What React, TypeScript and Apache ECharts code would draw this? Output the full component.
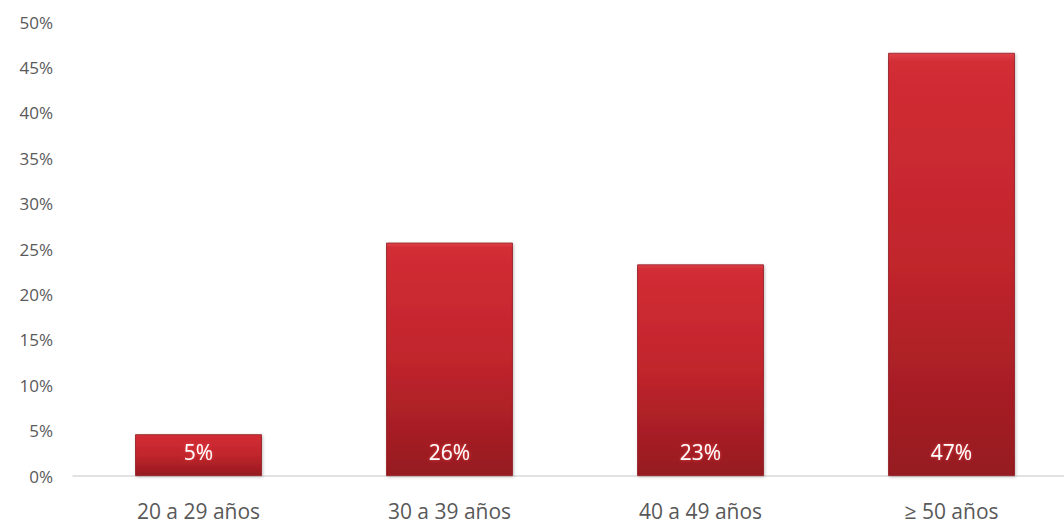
import React, { useEffect, useRef } from "react";
import * as echarts from "echarts";

const categories = ["20 a 29 años", "30 a 39 años", "40 a 49 años", "≥ 50 años"];
const values = [4.6, 25.7, 23.3, 46.6];
const yTicks = [0, 5, 10, 15, 20, 25, 30, 35, 40, 45, 50];

export default function App() {
  const ref = useRef<HTMLDivElement>(null);
  useEffect(() => {
    const chart = echarts.init(ref.current!, undefined, { renderer: "svg" });
    chart.setOption({
      animation: false,
      backgroundColor: "#ffffff",
      grid: { left: 73, right: 0, top: 22, bottom: 49 },
      xAxis: {
        type: "category",
        data: categories,
        axisTick: { show: false },
        axisLine: { lineStyle: { color: "#d9d9d9", width: 1.5 } },
        axisLabel: { color: "#595959", fontSize: 21, margin: 24, fontFamily: "Open Sans" },
      },
      yAxis: {
        type: "value",
        min: yTicks[0],
        max: yTicks[yTicks.length - 1],
        interval: 5,
        splitLine: { show: false },
        axisLine: { show: false },
        axisTick: { show: false },
        axisLabel: {
          color: "#595959",
          fontSize: 17,
          margin: 20,
          fontFamily: "Open Sans",
          formatter: (v: number) => v + "%",
        },
      },
      series: [
        {
          type: "bar",
          data: values,
          barWidth: "50.5%",
          itemStyle: {
            color: new echarts.graphic.LinearGradient(0, 0, 0, 1, [
              { offset: 0, color: "#e0424a" },
              { offset: 0.02, color: "#d22d35" },
              { offset: 0.5, color: "#c1252c" },
              { offset: 1, color: "#951a20" },
            ]),
            borderColor: "#8e1a1f",
            borderWidth: 0.8,
            shadowColor: "rgba(0,0,0,0.25)",
            shadowBlur: 3,
            shadowOffsetX: 1,
            shadowOffsetY: 1,
          },
          label: {
            show: true,
            position: "insideBottom",
            distance: 14,
            color: "#ffffff",
            fontSize: 21,
            fontFamily: "Open Sans",
            textShadowColor: "rgba(255,80,80,0.8)",
            textShadowBlur: 3,
            formatter: (p: any) => Math.round(p.value) + "%",
          },
        },
      ],
    });
    return () => chart.dispose();
  }, []);
  return (
    <div
      style={{ position: "absolute", left: 0, top: 0, width: 1064, height: 525, overflow: "hidden" }}
    >
      <div ref={ref} style={{ width: 1077, height: 525 }} />
    </div>
  );
}
